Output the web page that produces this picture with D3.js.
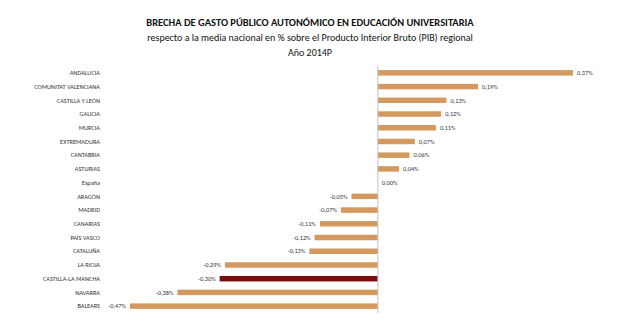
<!DOCTYPE html>
<html><head><meta charset="utf-8">
<script src="https://cdn.jsdelivr.net/npm/d3@7"></script>
<style>body{margin:0;background:#fff}</style>
</head><body>
<svg id="c" width="620" height="330"></svg>
<script>
const categories = ["ANDALUCÍA","COMUNITAT VALENCIANA","CASTILLA Y LEÓN","GALICIA","MURCIA","EXTREMADURA","CANTABRIA","ASTURIAS","España","ARAGÓN","MADRID","CANARIAS","PAÍS VASCO","CATALUÑA","LA RIOJA","CASTILLA-LA MANCHA","NAVARRA","BALEARS"];
const values = [0.37,0.19,0.13,0.12,0.11,0.07,0.06,0.04,0.00,-0.05,-0.07,-0.11,-0.12,-0.13,-0.29,-0.30,-0.38,-0.47];
const valueLabels = ["0,37%","0,19%","0,13%","0,12%","0,11%","0,07%","0,06%","0,04%","0,00%","-0,05%","-0,07%","-0,11%","-0,12%","-0,13%","-0,29%","-0,30%","-0,38%","-0,47%"];
const highlight = "CASTILLA-LA MANCHA";
const titles = ["BRECHA DE GASTO PÚBLICO AUTONÓMICO EN EDUCACIÓN UNIVERSITARIA","respecto a la media nacional en % sobre el Producto Interior Bruto (PIB) regional","Año 2014P"];

const svg = d3.select("#c");
const font = "Carlito, 'Open Sans', 'Liberation Sans', sans-serif";
const x = d3.scaleLinear().domain([-0.47,0.37]).range([130,573]);
const y = d3.scaleBand().domain(categories).range([66,313]).paddingInner(0.6).paddingOuter(0.3);

svg.append("text").attr("x",310).attr("y",26).attr("text-anchor","middle")
  .attr("font-family",font).attr("font-size",10.5).attr("font-weight","bold").attr("fill","#111").text(titles[0]);
svg.append("text").attr("x",310).attr("y",41).attr("text-anchor","middle")
  .attr("font-family",font).attr("font-size",10).attr("fill","#111").text(titles[1]);
svg.append("text").attr("x",310).attr("y",56).attr("text-anchor","middle")
  .attr("font-family",font).attr("font-size",10).attr("fill","#111").text(titles[2]);

const g = svg.append("g");
g.selectAll("rect").data(categories).join("rect")
  .attr("x",(d,i)=>x(Math.min(0,values[i])))
  .attr("width",(d,i)=>Math.abs(x(values[i])-x(0)))
  .attr("y",d=>y(d)).attr("height",y.bandwidth())
  .attr("fill",d=>d===highlight?"#7b0c0c":"#d4995f");

svg.append("line").attr("x1",x(0)).attr("x2",x(0)).attr("y1",66).attr("y2",313)
  .attr("stroke","#bfbfbf").attr("stroke-width",1);

g.selectAll("text.cat").data(categories).join("text").attr("class","cat")
  .attr("x",100).attr("y",d=>y(d)+y.bandwidth()/2).attr("dy","0.35em")
  .attr("text-anchor","end").attr("font-family",font).attr("font-size",6.3).attr("fill","#333").text(d=>d);

g.selectAll("text.val").data(categories).join("text").attr("class","val")
  .attr("x",(d,i)=>values[i]>=0?x(values[i])+4:x(values[i])-4)
  .attr("y",d=>y(d)+y.bandwidth()/2).attr("dy","0.35em")
  .attr("text-anchor",(d,i)=>values[i]>=0?"start":"end")
  .attr("font-family",font).attr("font-size",6.3).attr("fill","#333").text((d,i)=>valueLabels[i]);
</script>
</body></html>
